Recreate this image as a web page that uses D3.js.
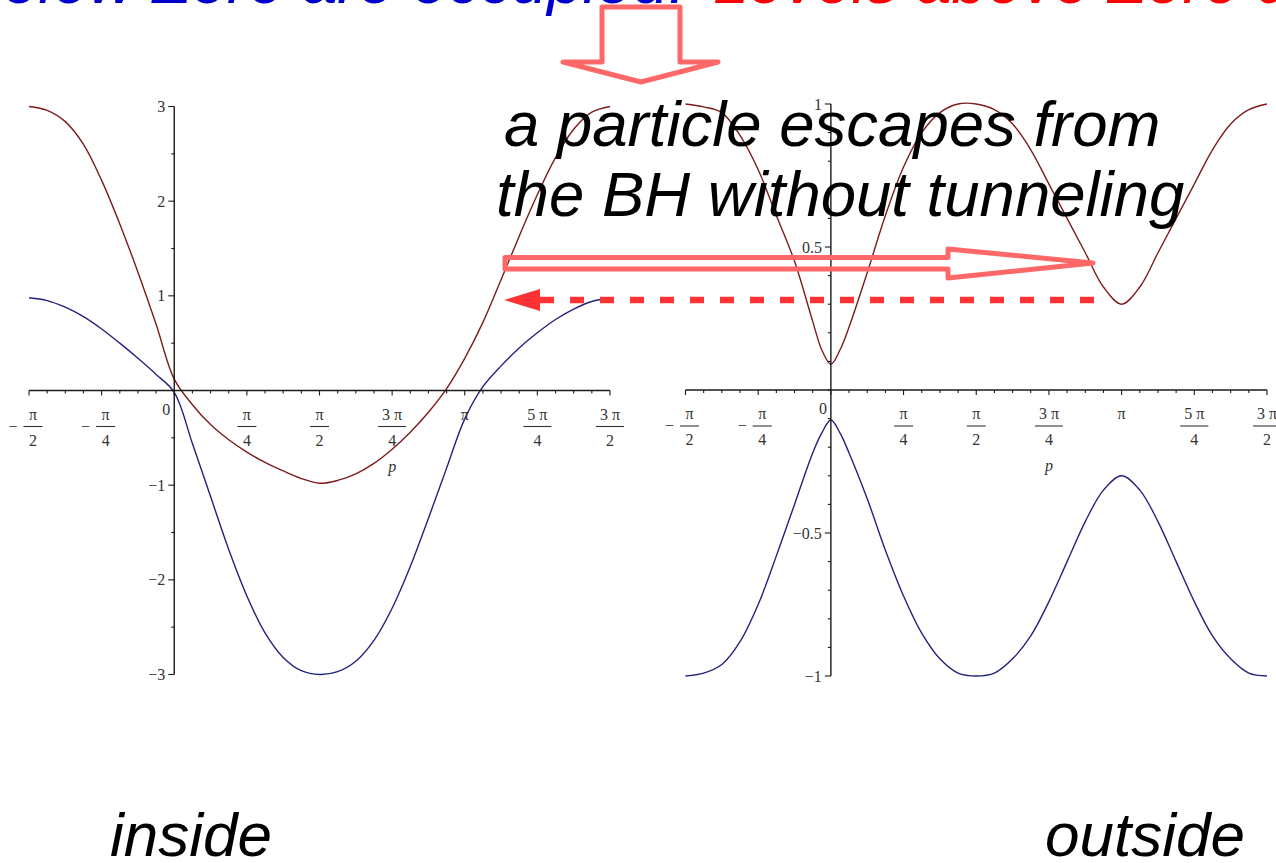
<!DOCTYPE html>
<html><head><meta charset="utf-8">
<script src="https://cdn.jsdelivr.net/npm/d3@7"></script>
<style>body{margin:0;background:#fff}svg{display:block}</style>
</head><body>
<svg id="c" width="1276" height="863"></svg>
<script>
// Momentum p is given in sixteenths of π.
const pInside = [-8,-7,-6,-5,-4,-3,-2,-1,0,1,2,3,4,5,6,7,8,9,10,11,12,13,14,15,16,17,18,19,20,21,22,23,24];
const insideUpper = [3.00,2.96,2.84,2.60,2.22,1.76,1.25,0.70,0.12,-0.15,-0.36,-0.52,-0.65,-0.76,-0.85,-0.93,-0.98,-0.95,-0.88,-0.77,-0.62,-0.44,-0.23,0.02,0.34,0.72,1.17,1.63,2.07,2.46,2.76,2.94,3.00];
const insideLower = [0.98,0.95,0.88,0.78,0.65,0.50,0.34,0.17,-0.02,-0.56,-1.12,-1.68,-2.17,-2.56,-2.82,-2.96,-3.00,-2.97,-2.86,-2.64,-2.30,-1.86,-1.35,-0.82,-0.30,0.04,0.26,0.45,0.61,0.75,0.86,0.94,0.98];

const pOutside = [-8,-7,-6,-5,-4,-3,-2,-1,-0.5,0,0.5,1,2,3,4,5,6,7,8,9,10,11,12,13,14,15,16,17,18,19,20,21,22,23,24];
const outsideUpper = [1.00,0.99,0.97,0.89,0.77,0.61,0.45,0.24,0.14,0.09,0.14,0.22,0.41,0.61,0.78,0.90,0.97,1.00,1.00,0.98,0.93,0.84,0.72,0.60,0.48,0.36,0.30,0.36,0.48,0.60,0.72,0.84,0.93,0.98,1.00];
const outsideLower = [-1.00,-0.99,-0.96,-0.88,-0.75,-0.58,-0.40,-0.22,-0.15,-0.105,-0.15,-0.22,-0.38,-0.56,-0.72,-0.85,-0.94,-0.99,-1.00,-0.99,-0.94,-0.86,-0.74,-0.60,-0.46,-0.35,-0.30,-0.35,-0.46,-0.60,-0.74,-0.86,-0.94,-0.99,-1.00];

const xTickSteps = [-8,-4,4,8,12,16,20,24];
const xTickSign  = ["−","−","","","","","",""];
const xTickNum   = ["π","π","π","π","3 π","π","5 π","3 π"];
const xTickDen   = ["2","4","4","2","4","","4","2"];

const yInsideTicks  = [-3,-2,-1,1,2,3];
const yOutsideTicks = [-1,-0.5,0.5,1];

const headline = ["Levels below Zero are occupied.", "Levels above Zero are empty."];
const note = ["a particle escapes from", "the BH without tunneling"];
const panelNames = ["inside", "outside"];

const svg = d3.select("#c");
const SERIF = "'Liberation Serif','Times New Roman',serif";
const SANS = "'Liberation Sans',Arial,sans-serif";
const AXIS = "#1a1a1a", LABEL = "#333";
const UPPER = "#7d1c1c", LOWER = "#23237e";
const FS = 16;

function panel(cfg) {
  const g = svg.append("g");
  const x = d3.scaleLinear().domain([-8, 24]).range(cfg.xr);
  const y = d3.scaleLinear().domain(cfg.yd).range(cfg.yr);
  const x0 = x(0), y0 = y(0);

  // curves
  const line = d3.line().x((d, i) => x(cfg.p[i])).y(d => y(d)).curve(d3.curveCatmullRom.alpha(0.5));
  g.append("path").attr("d", line(cfg.upper)).attr("fill", "none").attr("stroke", UPPER).attr("stroke-width", 1.4);
  g.append("path").attr("d", line(cfg.lower)).attr("fill", "none").attr("stroke", LOWER).attr("stroke-width", 1.4);

  // horizontal axis with π/16 minor ticks
  g.append("line").attr("x1", x(-8)).attr("x2", x(24)).attr("y1", y0).attr("y2", y0)
    .attr("stroke", AXIS).attr("stroke-width", 1.4);
  g.selectAll(".xt").data(d3.range(-8, 25)).join("line")
    .attr("x1", d => x(d)).attr("x2", d => x(d))
    .attr("y1", y0).attr("y2", d => y0 + (d % 4 === 0 ? 5 : 3))
    .attr("stroke", AXIS).attr("stroke-width", 1.1);

  // vertical axis
  const [ylo, yhi] = cfg.yd;
  g.append("line").attr("x1", x0).attr("x2", x0).attr("y1", y(ylo)).attr("y2", y(yhi))
    .attr("stroke", AXIS).attr("stroke-width", 1.4);
  const minor = d3.range(Math.round((yhi - ylo) / cfg.yMinor) + 1).map(i => ylo + i * cfg.yMinor);
  g.selectAll(".yt").data(minor).join("line")
    .attr("x1", x0).attr("x2", d => x0 - (cfg.yTicks.some(t => Math.abs(t - d) < 1e-6) ? 6 : 3))
    .attr("y1", d => y(d)).attr("y2", d => y(d))
    .attr("stroke", AXIS).attr("stroke-width", 1.1);
  g.selectAll(".yl").data(cfg.yTicks).join("text")
    .attr("x", x0 - 9).attr("y", d => y(d) + 5.5)
    .attr("text-anchor", "end").attr("font-family", SERIF).attr("font-size", FS).attr("fill", LABEL)
    .text(d => d < 0 ? "−" + Math.abs(d) : String(d));

  // origin label
  g.append("text").attr("x", x0 - 8).attr("y", y0 + 24).attr("text-anchor", "middle")
    .attr("font-family", SERIF).attr("font-size", FS).attr("fill", LABEL).text("0");

  // fractional π tick labels
  xTickSteps.forEach((s, i) => {
    const neg = xTickSign[i] !== "";
    const cx = x(s) + (neg ? 4 : 0);
    if (neg) g.append("text").attr("x", x(s) - 16).attr("y", y0 + 41).attr("text-anchor", "middle")
      .attr("font-family", SERIF).attr("font-size", FS).attr("fill", LABEL).text(xTickSign[i]);
    g.append("text").attr("x", cx).attr("y", y0 + 29).attr("text-anchor", "middle")
      .attr("font-family", SERIF).attr("font-size", FS).attr("fill", LABEL).text(xTickNum[i]);
    if (xTickDen[i]) {
      const w = xTickNum[i].length > 1 ? 28 : 19;
      g.append("line").attr("x1", cx - w / 2).attr("x2", cx + w / 2)
        .attr("y1", y0 + 36).attr("y2", y0 + 36).attr("stroke", LABEL).attr("stroke-width", 1.1);
      g.append("text").attr("x", cx).attr("y", y0 + 55).attr("text-anchor", "middle")
        .attr("font-family", SERIF).attr("font-size", FS).attr("fill", LABEL).text(xTickDen[i]);
    }
  });

  // axis name
  g.append("text").attr("x", x(12)).attr("y", y0 + 81).attr("text-anchor", "middle")
    .attr("font-family", SERIF).attr("font-style", "italic").attr("font-size", FS).attr("fill", LABEL).text("p");
}

panel({ xr: [29, 610], yd: [-3, 3], yr: [674.5, 106.5], yMinor: 0.5, yTicks: yInsideTicks,
        p: pInside, upper: insideUpper, lower: insideLower });
panel({ xr: [685.5, 1267], yd: [-1, 1], yr: [676, 104], yMinor: 0.1, yTicks: yOutsideTicks,
        p: pOutside, upper: outsideUpper, lower: outsideLower });

// headline across the top
svg.append("text").attr("x", 686).attr("y", 3).attr("text-anchor", "end")
  .attr("font-family", SANS).attr("font-style", "italic").attr("font-size", 64).attr("fill", "#0000cc").text(headline[0]);
svg.append("text").attr("x", 713).attr("y", 3)
  .attr("font-family", SANS).attr("font-style", "italic").attr("font-size", 64).attr("fill", "#ff0000").text(headline[1]);

const ARROW = "#ff6868";
// block arrow pointing down
svg.append("path")
  .attr("d", "M602,7 L680,7 L680,62 L718,62 L641,82 L563,62 L602,62 Z")
  .attr("fill", "#fff").attr("stroke", ARROW).attr("stroke-width", 5).attr("stroke-linejoin", "round");

// annotation
svg.selectAll(".note").data(note).join("text")
  .attr("x", (d, i) => i === 0 ? 504 : 496).attr("y", (d, i) => 146 + i * 70)
  .attr("font-family", SANS).attr("font-style", "italic").attr("font-size", 63.5).attr("fill", "#000").text(d => d);

// hollow arrow to the right
svg.append("path")
  .attr("d", "M505,257.5 L948,257.5 L948,249 L1093,263 L948,278 L948,269 L505,269 Z")
  .attr("fill", "none").attr("stroke", ARROW).attr("stroke-width", 5).attr("stroke-linejoin", "round");

// dashed return arrow
svg.append("line").attr("x1", 1094).attr("x2", 540).attr("y1", 300).attr("y2", 300)
  .attr("stroke", "#ff3333").attr("stroke-width", 6.5).attr("stroke-dasharray", "14,16");
svg.append("path").attr("d", "M504,300 L540,289 L540,311 Z").attr("fill", "#ff3333");

// panel captions
svg.selectAll(".cap").data(panelNames).join("text")
  .attr("x", (d, i) => i === 0 ? 110 : 1045).attr("y", 856)
  .attr("font-family", SANS).attr("font-style", "italic").attr("font-size", 62).attr("fill", "#000").text(d => d);
</script>
</body></html>
